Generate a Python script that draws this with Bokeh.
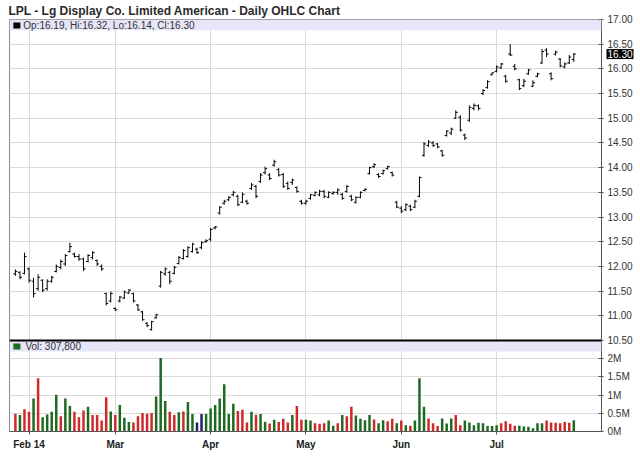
from bokeh.plotting import figure
from bokeh.models import (ColumnDataSource, FixedTicker, Label, BoxAnnotation, Span,
                          PrintfTickFormatter, Range1d)
from bokeh.embed import file_html
from bokeh.resources import INLINE

title_text = "LPL - Lg Display Co. Limited American - Daily OHLC Chart"
price_legend = "Op:16.19, Hi:16.32, Lo:16.14, Cl:16.30"
vol_legend = "Vol: 307,800"
last_close_label = "16.30"
last_close = 16.30

month_tick_idx = [3, 22, 43, 64, 85, 106]
month_tick_labels = ["Feb 14", "Mar", "Apr", "May", "Jun", "Jul"]
price_ticks = [10.5, 11.0, 11.5, 12.0, 12.5, 13.0, 13.5, 14.0, 14.5, 15.0, 15.5, 16.0, 16.5, 17.0]
vol_ticks = [0, 0.5, 1, 1.5, 2]
vol_tick_labels = ["0M", "0.5M", "1M", "1.5M", "2M"]
vol_panel_max = 2.5

highs = [11.94, 11.90, 12.28, 11.98, 11.77, 11.84, 11.74, 11.74, 11.81, 12.04,
         12.14, 12.25, 12.48, 12.28, 12.25, 12.18, 12.25, 12.31, 12.14, 12.04,
         11.47, 11.49, 11.17, 11.40, 11.51, 11.54, 11.47, 11.24, 11.10, 10.87,
         10.90, 11.04, 11.91, 11.98, 11.91, 12.01, 12.21, 12.35, 12.41, 12.48,
         12.38, 12.51, 12.55, 12.78, 12.82, 13.22, 13.35, 13.42, 13.53, 13.45,
         13.50, 13.35, 13.69, 13.65, 13.89, 14.02, 13.89, 14.16, 13.99, 13.89,
         13.72, 13.78, 13.62, 13.35, 13.35, 13.47, 13.52, 13.55, 13.55, 13.52,
         13.52, 13.58, 13.49, 13.65, 13.45, 13.42, 13.52, 13.58, 14.02, 14.09,
         13.89, 13.96, 14.04, 13.92, 13.33, 13.22, 13.28, 13.25, 13.35, 13.82,
         14.52, 14.56, 14.54, 14.50, 14.36, 14.76, 14.81, 15.16, 15.06, 14.69,
         15.26, 15.30, 15.28, 15.59, 15.77, 15.93, 16.07, 16.12, 15.88, 16.50,
         16.10, 15.80, 15.80, 16.00, 15.77, 15.92, 16.40, 16.42, 15.93, 16.37,
         16.22, 16.13, 16.28, 16.32]
lows = [11.81, 11.74, 11.84, 11.67, 11.37, 11.51, 11.48, 11.51, 11.67, 11.88,
        11.94, 12.01, 12.28, 12.18, 12.11, 11.91, 12.08, 12.14, 12.01, 11.91,
        11.21, 11.27, 11.10, 11.27, 11.34, 11.44, 11.27, 11.10, 10.90, 10.77,
        10.70, 10.94, 11.57, 11.81, 11.64, 11.84, 12.04, 12.14, 12.18, 12.28,
        12.25, 12.35, 12.48, 12.51, 12.75, 13.05, 13.25, 13.32, 13.42, 13.22,
        13.28, 13.25, 13.55, 13.38, 13.69, 13.86, 13.75, 14.02, 13.82, 13.59,
        13.55, 13.65, 13.49, 13.25, 13.25, 13.35, 13.42, 13.42, 13.38, 13.38,
        13.45, 13.45, 13.35, 13.49, 13.32, 13.27, 13.38, 13.52, 13.86, 13.99,
        13.79, 13.86, 13.96, 13.82, 13.18, 13.08, 13.12, 13.12, 13.18, 13.40,
        14.22, 14.42, 14.42, 14.39, 14.22, 14.63, 14.66, 14.99, 14.73, 14.56,
        14.93, 15.16, 15.16, 15.47, 15.60, 15.87, 15.93, 16.00, 15.72, 16.26,
        15.97, 15.57, 15.63, 15.88, 15.63, 15.83, 16.10, 16.24, 15.77, 16.27,
        16.03, 16.01, 16.10, 16.14]
opens = [11.85, 11.88, 11.86, 11.95, 11.70, 11.55, 11.72, 11.55, 11.70, 11.90,
         11.98, 12.05, 12.30, 12.25, 12.20, 12.15, 12.10, 12.18, 12.12, 12.00,
         11.45, 11.30, 11.15, 11.30, 11.36, 11.46, 11.45, 11.22, 11.08, 10.85,
         10.72, 10.96, 11.60, 11.85, 11.88, 11.86, 12.06, 12.16, 12.20, 12.30,
         12.35, 12.38, 12.50, 12.55, 12.78, 13.08, 13.28, 13.35, 13.45, 13.42,
         13.30, 13.32, 13.58, 13.62, 13.72, 13.90, 13.85, 14.05, 13.96, 13.86,
         13.68, 13.70, 13.60, 13.32, 13.28, 13.38, 13.44, 13.45, 13.52, 13.40,
         13.48, 13.50, 13.46, 13.52, 13.42, 13.30, 13.40, 13.54, 13.88, 14.02,
         13.86, 13.88, 13.98, 13.90, 13.30, 13.18, 13.15, 13.22, 13.20, 13.42,
         14.25, 14.45, 14.50, 14.48, 14.34, 14.65, 14.70, 15.00, 15.02, 14.66,
         14.96, 15.20, 15.25, 15.50, 15.62, 15.88, 15.95, 16.02, 15.85, 16.30,
         16.05, 15.78, 15.66, 15.90, 15.65, 15.85, 16.12, 16.38, 15.90, 16.30,
         16.20, 16.04, 16.12, 16.19]
closes = [11.90, 11.78, 12.20, 11.72, 11.45, 11.78, 11.52, 11.70, 11.78, 12.00,
          12.10, 12.22, 12.40, 12.20, 12.15, 11.95, 12.22, 12.28, 12.05, 11.95,
          11.25, 11.45, 11.12, 11.38, 11.48, 11.52, 11.30, 11.12, 10.92, 10.80,
          10.88, 11.02, 11.88, 11.95, 11.70, 11.98, 12.18, 12.32, 12.38, 12.45,
          12.28, 12.48, 12.52, 12.75, 12.80, 13.20, 13.32, 13.40, 13.50, 13.25,
          13.46, 13.28, 13.65, 13.42, 13.85, 13.98, 13.78, 14.12, 13.85, 13.62,
          13.58, 13.75, 13.52, 13.28, 13.32, 13.45, 13.50, 13.52, 13.42, 13.50,
          13.50, 13.55, 13.38, 13.62, 13.35, 13.40, 13.50, 13.56, 14.00, 14.06,
          13.82, 13.94, 14.02, 13.85, 13.20, 13.12, 13.25, 13.15, 13.32, 13.80,
          14.48, 14.52, 14.45, 14.42, 14.25, 14.74, 14.78, 15.12, 14.76, 14.60,
          15.22, 15.26, 15.20, 15.56, 15.74, 15.92, 16.04, 16.10, 15.75, 16.28,
          16.00, 15.60, 15.75, 15.98, 15.72, 15.90, 16.35, 16.30, 15.80, 16.34,
          16.06, 16.10, 16.24, 16.30]
volumes_m = [0.49, 0.45, 0.61, 0.54, 0.91, 1.46, 0.39, 0.47, 0.54, 1.01,
             0.42, 0.91, 0.70, 0.54, 0.39, 0.58, 0.68, 0.45, 0.45, 0.30,
             0.94, 0.55, 0.45, 0.73, 0.38, 0.26, 0.25, 0.42, 0.51, 0.49,
             0.51, 0.96, 2.02, 0.84, 0.54, 0.45, 0.53, 0.55, 0.81, 0.48,
             0.25, 0.48, 0.48, 0.63, 0.73, 0.91, 1.30, 0.48, 0.76, 0.56,
             0.60, 0.25, 0.54, 0.46, 0.48, 0.27, 0.22, 0.32, 0.26, 0.35,
             0.25, 0.45, 0.70, 0.32, 0.32, 0.30, 0.23, 0.21, 0.23, 0.30,
             0.16, 0.23, 0.45, 0.42, 0.68, 0.44, 0.35, 0.31, 0.45, 0.33,
             0.23, 0.31, 0.28, 0.35, 0.23, 0.30, 0.17, 0.16, 0.30, 1.46,
             0.68, 0.36, 0.23, 0.15, 0.36, 0.22, 0.36, 0.45, 0.17, 0.30,
             0.25, 0.17, 0.24, 0.23, 0.15, 0.15, 0.17, 0.23, 0.28, 0.21,
             0.16, 0.16, 0.14, 0.13, 0.09, 0.23, 0.23, 0.30, 0.25, 0.24,
             0.23, 0.26, 0.24, 0.3078]
vol_dir = ["d", "u", "d", "d", "u", "d", "u", "u", "u", "u",
           "d", "u", "u", "d", "d", "d", "u", "d", "d", "d",
           "d", "u", "d", "u", "u", "u", "d", "d", "d", "d",
           "d", "u", "u", "u", "d", "d", "u", "d", "u", "u",
           "n", "n", "u", "u", "u", "u", "u", "u", "u", "d",
           "d", "d", "u", "d", "u", "u", "d", "u", "d", "d",
           "d", "u", "d", "d", "u", "u", "d", "d", "d", "u",
           "u", "d", "u", "d", "d", "u", "u", "u", "u", "d",
           "u", "u", "d", "d", "u", "d", "u", "d", "u", "u",
           "u", "d", "d", "d", "u", "u", "u", "d", "d", "u",
           "u", "u", "u", "u", "u", "u", "u", "d", "d", "d",
           "d", "u", "u", "u", "u", "u", "u", "d", "d", "d",
           "d", "d", "d", "u"]

# ---------------- styling / layout ----------------
FONT = "Liberation Sans"
GRID = "#dadada"
AXIS = "#555555"
TXT = "#333333"
BAND = "#e6e6f8"
dir_color = {"u": "#1d6b22", "d": "#cf2a2a", "n": "#22226a"}
PRICE_PX, VOL_PX = 321, 91          # heights of the two stacked panels

price_lo, price_hi = price_ticks[0], price_ticks[-1]
y_start = price_lo - (price_hi - price_lo) * VOL_PX / PRICE_PX
vol_top = vol_panel_max * (PRICE_PX + VOL_PX) / VOL_PX


def vol_to_price(v):
    return y_start + v * (price_hi - y_start) / vol_top


n = len(highs)
idx = list(range(n))
tick_half = 0.45
src = ColumnDataSource(dict(
    x=idx, high=highs, low=lows, open=opens, close=closes,
    xl=[i - tick_half for i in idx], xr=[i + tick_half for i in idx],
))
vsrc = ColumnDataSource(dict(x=idx, vol=volumes_m, color=[dir_color[d] for d in vol_dir]))

x_lo, x_hi = -1.3, 129.1
p = figure(frame_width=592, frame_height=PRICE_PX + VOL_PX,
           x_range=Range1d(x_lo, x_hi), y_range=Range1d(y_start, price_hi),
           y_axis_location="right", toolbar_location=None, output_backend="svg",
           min_border_left=9, min_border_right=39, min_border_top=19, min_border_bottom=4,
           background_fill_color="white", border_fill_color="white",
           outline_line_color="#8a8a8a", title=title_text)
p.extra_y_ranges = {"vol": Range1d(0, vol_top)}

p.title.text_font = FONT
p.title.text_font_size = "12px"
p.title.text_font_style = "bold"
p.title.text_color = "#2a2a2a"
p.title.align = "left"
p.title.standoff = 3
p.title.offset = -1

all_ticks = price_ticks + [vol_to_price(v) for v in vol_ticks]
ya = p.yaxis[0]
ya.ticker = FixedTicker(ticks=all_ticks)
ya.formatter = PrintfTickFormatter(format="%.2f")
ya.major_label_overrides = {vol_to_price(v): l for v, l in zip(vol_ticks, vol_tick_labels)}
xa = p.xaxis[0]
xa.ticker = FixedTicker(ticks=month_tick_idx)
xa.major_label_overrides = {t: l for t, l in zip(month_tick_idx, month_tick_labels)}
for ax in [ya, xa]:
    ax.axis_line_color = AXIS
    ax.major_tick_line_color = AXIS
    ax.minor_tick_line_color = None
    ax.major_label_text_font = FONT
    ax.major_label_text_font_size = "10px"
    ax.major_label_text_color = TXT
ya.major_tick_in = 3
ya.major_tick_out = 2
ya.major_label_standoff = 4
xa.major_tick_in = 0
xa.major_tick_out = 3
xa.major_label_standoff = 4
xa.major_label_text_font_style = "bold"
xa.major_label_text_color = "#222222"
p.xgrid.grid_line_color = GRID
p.ygrid.grid_line_color = GRID

# OHLC bars
p.segment(x0="x", y0="low", x1="x", y1="high", source=src, line_color="black", line_width=1)
p.segment(x0="xl", y0="open", x1="x", y1="open", source=src, line_color="black", line_width=1)
p.segment(x0="x", y0="close", x1="xr", y1="close", source=src, line_color="black", line_width=1)

# volume bars
p.vbar(x="x", top="vol", width=0.55, source=vsrc, fill_color="color", line_color=None,
       y_range_name="vol")

# legend bands
p.add_layout(BoxAnnotation(bottom=16.78, top=price_hi, fill_color=BAND, fill_alpha=1.0,
                           line_alpha=0))
p.add_layout(BoxAnnotation(left=-0.45, right=1.1, bottom=16.82, top=16.94,
                           fill_color="black", fill_alpha=1.0, line_alpha=0))
p.add_layout(Label(x=1.75, y=16.885, text=price_legend, text_font=FONT,
                   text_font_size="10px", text_color=TXT, text_baseline="middle"))

p.add_layout(BoxAnnotation(bottom=2.2, top=vol_panel_max, fill_color=BAND, fill_alpha=1.0,
                           line_alpha=0, y_range_name="vol"))
p.add_layout(BoxAnnotation(left=-0.45, right=1.1, bottom=2.25, top=2.42, y_range_name="vol",
                           fill_color="#1d6b22", fill_alpha=1.0, line_alpha=0))
p.add_layout(Label(x=2.2, y=2.335, y_range_name="vol", text=vol_legend, text_font=FONT,
                   text_font_size="10px", text_color=TXT, text_baseline="middle"))

p.add_layout(Span(location=price_lo, dimension="width", line_color="black", line_width=2))

# last close marker on the price axis (just right of the frame)
marker_x = x_hi + 5 * (x_hi - x_lo) / 592
p.add_layout(Label(x=marker_x, y=last_close, text=last_close_label,
                   text_font=FONT, text_font_size="10px", text_color="white",
                   text_baseline="middle", background_fill_color="black",
                   background_fill_alpha=1.0, padding=1), "right")

open("out.html", "w").write(file_html(p, INLINE))
